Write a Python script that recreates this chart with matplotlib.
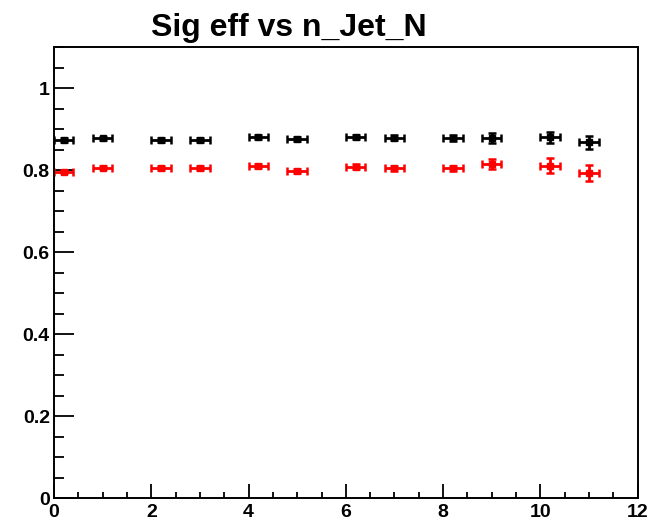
import matplotlib.pyplot as plt
from matplotlib.ticker import MultipleLocator

plt.rcParams['font.family'] = ['Liberation Sans', 'DejaVu Sans']

# bin centres (30 bins over 0-12, each 0.4 wide)
n_jet = [0.2, 1.0, 2.2, 3.0, 4.2, 5.0, 6.2, 7.0, 8.2, 9.0, 10.2, 11.0]
half_width = [0.2] * 12

eff_black = [0.873, 0.877, 0.873, 0.873, 0.881, 0.876, 0.881, 0.879, 0.879, 0.878, 0.880, 0.868]
err_black = [0.004, 0.004, 0.004, 0.004, 0.005, 0.005, 0.005, 0.006, 0.007, 0.012, 0.013, 0.016]

eff_red = [0.796, 0.806, 0.805, 0.805, 0.810, 0.798, 0.808, 0.804, 0.804, 0.815, 0.811, 0.793]
err_red = [0.004, 0.004, 0.005, 0.005, 0.005, 0.005, 0.006, 0.006, 0.007, 0.012, 0.018, 0.019]

fig = plt.figure(figsize=(6.47, 5.23), dpi=100)
ax = fig.add_axes([0.0835, 0.0478, 0.902, 0.8622])

for y, ey, c in [(eff_black, err_black, 'black'), (eff_red, err_red, 'red')]:
    ax.errorbar(n_jet, y, xerr=half_width, yerr=ey, fmt='s', color=c,
                markersize=4, elinewidth=2, capsize=3, capthick=1.8)

ax.set_xlim(0, 12)
ax.set_ylim(0, 1.1)

ax.xaxis.set_major_locator(MultipleLocator(2))
ax.xaxis.set_minor_locator(MultipleLocator(0.5))
ax.yaxis.set_major_locator(MultipleLocator(0.2))
ax.yaxis.set_minor_locator(MultipleLocator(0.05))
ax.yaxis.set_major_formatter(plt.FuncFormatter(lambda v, p: f'{v:g}'))

ax.tick_params(axis='x', which='major', direction='in', length=10, width=1.3, pad=4)
ax.tick_params(axis='x', which='minor', direction='in', length=4.5, width=1.3)
ax.tick_params(axis='y', which='major', direction='in', length=14.5, width=1.3, pad=3)
ax.tick_params(axis='y', which='minor', direction='in', length=7.2, width=1.3)
for lab in ax.get_xticklabels() + ax.get_yticklabels():
    lab.set_fontsize(14)
    lab.set_fontweight('bold')

for s in ax.spines.values():
    s.set_linewidth(1.4)

fig.text(0.233, 0.946, 'Sig eff vs n_Jet_N', fontsize=23, fontweight='bold',
         ha='left', va='center')

fig.savefig('out.png', dpi=100)
